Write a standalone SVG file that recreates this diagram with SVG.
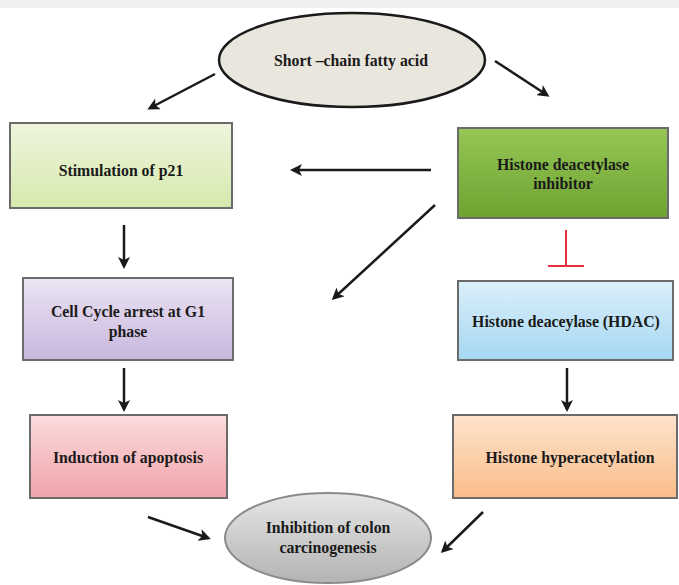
<svg xmlns="http://www.w3.org/2000/svg" width="679" height="585" viewBox="0 0 679 585">
<style>
.t{font-family:"Liberation Serif","Times New Roman",serif;font-weight:bold;font-size:15.8px;fill:#1a1a1a;text-anchor:middle}
.box{stroke:#6b6b6b;stroke-width:2}
.c{stroke:#1a1a1a;stroke-width:2.5;fill:none;marker-end:url(#ah)}
</style>
<defs>
<marker id="ah" markerWidth="12" markerHeight="12" refX="9" refY="6" orient="auto" markerUnits="userSpaceOnUse" viewBox="0 0 12 12">
<path d="M0,0 L12,6 L0,12 L3,6 Z" fill="#1a1a1a"/>
</marker>
<linearGradient id="gGreenL" x1="0" y1="0" x2="0" y2="1"><stop offset="0" stop-color="#eef5dd"/><stop offset="1" stop-color="#d6e9ad"/></linearGradient>
<linearGradient id="gGreen" x1="0" y1="0" x2="0" y2="1"><stop offset="0" stop-color="#96c656"/><stop offset="1" stop-color="#6ea332"/></linearGradient>
<linearGradient id="gLav" x1="0" y1="0" x2="0" y2="1"><stop offset="0" stop-color="#ece4f3"/><stop offset="1" stop-color="#c7b7dd"/></linearGradient>
<linearGradient id="gBlue" x1="0" y1="0" x2="0" y2="1"><stop offset="0" stop-color="#dbeffa"/><stop offset="1" stop-color="#a6d8f2"/></linearGradient>
<linearGradient id="gPink" x1="0" y1="0" x2="0" y2="1"><stop offset="0" stop-color="#fcdcdd"/><stop offset="1" stop-color="#f0a3aa"/></linearGradient>
<linearGradient id="gPeach" x1="0" y1="0" x2="0" y2="1"><stop offset="0" stop-color="#fde3cc"/><stop offset="1" stop-color="#fabd8a"/></linearGradient>
<linearGradient id="gGray" x1="0" y1="0" x2="0" y2="1"><stop offset="0" stop-color="#e6e6e6"/><stop offset="1" stop-color="#b3b3b3"/></linearGradient>
</defs>
<rect x="0" y="0" width="679" height="585" fill="#ffffff"/>
<rect x="0" y="0" width="679" height="8" fill="#f0f0f0"/>

<g id="scfa">
<ellipse cx="352" cy="60" rx="133" ry="47" fill="#e9e7dd" stroke="#1a1a1a" stroke-width="2.5"/>
<text class="t" x="351" y="66">Short –chain fatty acid</text>
</g>
<g id="p21">
<rect class="box" x="10" y="123" width="222" height="85" fill="url(#gGreenL)"/>
<text class="t" x="121" y="176">Stimulation of p21</text>
</g>
<g id="hdi">
<rect class="box" x="458" y="128" width="210" height="90" fill="url(#gGreen)" stroke="#4f6b2e"/>
<text class="t" x="563" y="170">Histone deacetylase</text>
<text class="t" x="563" y="189">inhibitor</text>
</g>
<g id="cellcycle">
<rect class="box" x="23" y="278" width="210" height="82" fill="url(#gLav)"/>
<text class="t" x="128" y="317">Cell Cycle arrest at G1</text>
<text class="t" x="128" y="337">phase</text>
</g>
<g id="hdac">
<rect class="box" x="458" y="281" width="215" height="79" fill="url(#gBlue)"/>
<text class="t" x="566" y="327">Histone deaceylase (HDAC)</text>
</g>
<g id="apoptosis">
<rect class="box" x="30" y="415" width="197" height="83" fill="url(#gPink)"/>
<text class="t" x="128" y="463">Induction of apoptosis</text>
</g>
<g id="hyper">
<rect class="box" x="453" y="415" width="224" height="83" fill="url(#gPeach)"/>
<text class="t" x="570" y="463">Histone hyperacetylation</text>
</g>
<g id="colon">
<ellipse cx="328" cy="538" rx="103" ry="45" fill="url(#gGray)" stroke="#8a8a8a" stroke-width="2"/>
<text class="t" x="328" y="533">Inhibition of colon</text>
<text class="t" x="328" y="553">carcinogenesis</text>
</g>

<g id="connectors">
<line class="c" x1="215" y1="74" x2="150" y2="108"/>
<line class="c" x1="495" y1="61" x2="547" y2="95"/>
<line class="c" x1="431" y1="170" x2="293" y2="170"/>
<line class="c" x1="435" y1="205" x2="334" y2="298"/>
<line class="c" x1="124" y1="225" x2="124" y2="266"/>
<line class="c" x1="124" y1="368" x2="124" y2="409"/>
<line class="c" x1="567" y1="368" x2="567" y2="409"/>
<line class="c" x1="148" y1="517" x2="208" y2="538"/>
<line class="c" x1="483" y1="512" x2="443" y2="551"/>
<g id="inhibit" stroke="#e53040" stroke-width="2" fill="none">
<line x1="566" y1="230" x2="566" y2="266"/>
<line x1="548" y1="266" x2="584" y2="266"/>
</g>
</g>
</svg>
